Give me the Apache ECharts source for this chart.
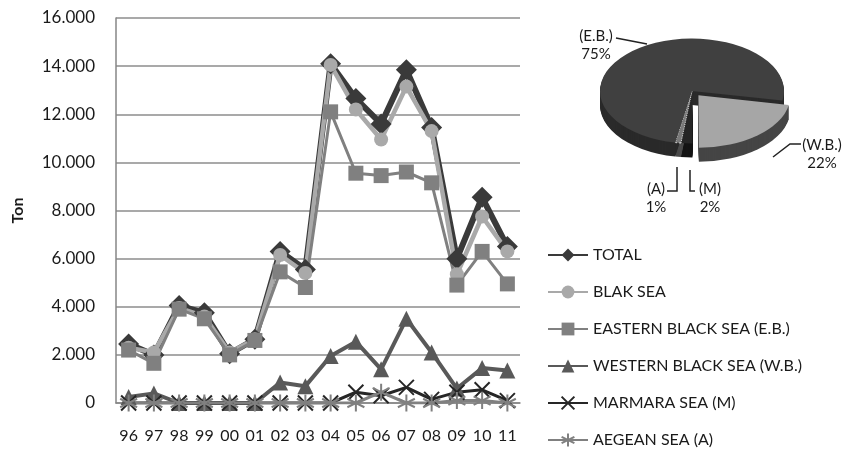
<!DOCTYPE html>
<html>
<head>
<meta charset="utf-8">
<script src="https://cdn.jsdelivr.net/npm/echarts@6/dist/echarts.min.js"></script>
<style>
  html, body { margin: 0; padding: 0; background: #fff; }
  #chart { width: 845px; height: 450px; }
</style>
</head>
<body>
<div id="chart"></div>
<script>
// years on the x axis
const years = ['96', '97', '98', '99', '00', '01', '02', '03', '04', '05', '06', '07', '08', '09', '10', '11'];

// tons per year
const total   = [2450, 2000, 4050, 3750, 2050, 2650, 6300, 5550, 14100, 12650, 11600, 13850, 11450, 6000, 8550, 6500];
const blakSea = [2300, 2100, 3950, 3600, 2100, 2650, 6150, 5400, 14050, 12200, 10950, 13150, 11300, 5350, 7750, 6300];
const eastern = [2200, 1650, 3900, 3500, 2000, 2600, 5450, 4800, 12100, 9550, 9450, 9600, 9150, 4900, 6300, 4950];
const western = [250, 400, 0, 0, 0, 0, 850, 700, 1950, 2550, 1400, 3500, 2100, 600, 1450, 1350];
const marmara = [0, 0, 0, 0, 0, 0, 0, 0, 0, 450, 300, 650, 150, 450, 550, 100];
const aegean  = [0, 0, 0, 0, 0, 0, 0, 0, 0, 0, 450, 0, 0, 100, 100, 0];

// pie shares, in drawing order (clockwise)
const pieNames  = ['(W.B.)', '(M)', '(A)', '(E.B.)'];
const pieValues = [22, 2, 1, 75];

const FONT = 'Lato';
const TXT = '#1a1a1a';

// pie look
const pieCx = 692, pieCy = 91, pieR = 92, flat = 0.57, depth = 14;
const pieStart = 10.5 * Math.PI / 180;
const pieTop  = ['#a6a6a6', '#262626', '#7a7a7a', '#404040'];
const pieSide = ['#454545', '#141414', '#4a4a4a', '#2a2a2a'];
const pieExplode = [10, 0, 0, 0];
// label anchors and leader lines
const pieLabelPos = [[822, 136], [710, 180], [656, 180], [596, 27]];
const pieLeaders = [
  [[801, 144], [790, 144], [773, 157]],
  [[695, 191], [690, 191], [690, 170]],
  [[667, 191], [677, 191], [677, 167]],
  [[616, 38], [647, 44]]
];

function sliceGeom(i) {
  const sum = pieValues.reduce((a, b) => a + b, 0);
  let before = 0;
  for (let k = 0; k < i; k++) before += pieValues[k];
  const a0 = pieStart + before / sum * Math.PI * 2;
  const a1 = a0 + pieValues[i] / sum * Math.PI * 2;
  const mid = (a0 + a1) / 2;
  return {
    a0, a1,
    x: pieCx + Math.cos(mid) * pieExplode[i],
    y: pieCy + Math.sin(mid) * pieExplode[i] * flat
  };
}

const sym = {
  cross: 'path://M0,0L10,10M10,0L0,10',
  star: 'path://M5,0L5,10M0.7,2.5L9.3,7.5M9.3,2.5L0.7,7.5'
};

function lineSeries(name, data, color, width, symbol, size, extra) {
  return Object.assign({
    name: name,
    type: 'line',
    data: data,
    symbol: symbol,
    symbolSize: size,
    lineStyle: { color: color, width: width },
    itemStyle: { color: color },
    emphasis: { disabled: true }
  }, extra || {});
}

const chart = echarts.init(document.getElementById('chart'));

const labelGraphics = [];
pieNames.forEach((n, i) => {
  const sum = pieValues.reduce((a, b) => a + b, 0);
  labelGraphics.push({
    type: 'text',
    x: pieLabelPos[i][0],
    y: pieLabelPos[i][1],
    style: {
      text: n + '\n' + Math.round(pieValues[i] / sum * 100) + '%',
      fontFamily: FONT, fontSize: 15, fill: TXT,
      align: 'center', lineHeight: 18
    }
  });
  labelGraphics.push({
    type: 'polyline',
    shape: { points: pieLeaders[i] },
    style: { stroke: '#222', lineWidth: 1.5, fill: null }
  });
});

chart.setOption({
  animation: false,
  backgroundColor: '#fff',
  grid: { left: 116, right: 325, top: 18, bottom: 47 },
  legend: {
    data: ['TOTAL', 'BLAK SEA', 'EASTERN BLACK SEA (E.B.)', 'WESTERN BLACK SEA (W.B.)', 'MARMARA SEA (M)', 'AEGEAN SEA (A)'],
    orient: 'vertical',
    left: 547,
    top: 247,
    padding: 0,
    itemWidth: 40,
    itemHeight: 16,
    itemGap: 21,
    textStyle: { fontFamily: FONT, fontSize: 16, lineHeight: 16, color: TXT }
  },
  xAxis: {
    type: 'category',
    data: years,
    boundaryGap: true,
    axisLine: { lineStyle: { color: '#868686', width: 1.5 } },
    axisTick: { show: false },
    axisLabel: { fontFamily: FONT, fontSize: 16, color: TXT, margin: 25, interval: 0 }
  },
  yAxis: {
    type: 'value',
    min: 0,
    max: 16000,
    interval: 2000,
    name: 'Ton',
    nameLocation: 'middle',
    nameRotate: 90,
    nameGap: 90,
    nameTextStyle: { fontFamily: FONT, fontSize: 16, fontWeight: 'bold', color: TXT },
    axisLine: { show: true, lineStyle: { color: '#868686', width: 1.5 } },
    axisTick: { show: false },
    splitLine: { lineStyle: { color: '#8c8c8c', width: 1.5 } },
    axisLabel: {
      fontFamily: FONT, fontSize: 17, color: TXT, margin: 21,
      formatter: v => v === 0 ? '0' : (v / 1000).toFixed(3)
    }
  },
  graphic: labelGraphics,
  series: [
    lineSeries('TOTAL', total, '#3a3a3a', 6, 'diamond', 21),
    lineSeries('BLAK SEA', blakSea, '#a9a9a9', 4.5, 'circle', 14),
    lineSeries('EASTERN BLACK SEA (E.B.)', eastern, '#808080', 3, 'rect', 15),
    lineSeries('WESTERN BLACK SEA (W.B.)', western, '#595959', 4, 'triangle', 16),
    lineSeries('MARMARA SEA (M)', marmara, '#262626', 3, sym.cross, 15,
      { itemStyle: { color: '#262626', borderColor: '#262626', borderWidth: 2 } }),
    lineSeries('AEGEAN SEA (A)', aegean, '#808080', 3, sym.star, 17,
      { itemStyle: { color: '#808080', borderColor: '#808080', borderWidth: 2 } }),
    {
      name: 'pieSide',
      type: 'custom',
      coordinateSystem: 'none',
      z: 1,
      silent: true,
      data: pieValues,
      renderItem: function (params) {
        const i = params.dataIndex;
        const g = sliceGeom(i);
        const kids = [];
        for (let k = depth; k >= 1; k--) {
          kids.push({
            type: 'sector',
            y: k,
            scaleY: flat,
            shape: { cx: 0, cy: 0, r: pieR, r0: 0, startAngle: g.a0, endAngle: g.a1, clockwise: true },
            style: { fill: pieSide[i] }
          });
        }
        return { type: 'group', x: g.x, y: g.y, children: kids };
      }
    },
    {
      name: 'pieTop',
      type: 'custom',
      coordinateSystem: 'none',
      z: 3,
      silent: true,
      data: pieValues,
      renderItem: function (params) {
        const i = params.dataIndex;
        const g = sliceGeom(i);
        const isA = pieNames[i] === '(A)';
        return {
          type: 'sector',
          x: g.x,
          y: g.y,
          scaleY: flat,
          shape: { cx: 0, cy: 0, r: pieR, r0: 0, startAngle: g.a0, endAngle: g.a1, clockwise: true },
          style: isA
            ? { fill: pieTop[i], stroke: '#fff', lineWidth: 1, lineDash: [2, 2] }
            : { fill: pieTop[i] }
        };
      }
    }
  ]
});
</script>
</body>
</html>
